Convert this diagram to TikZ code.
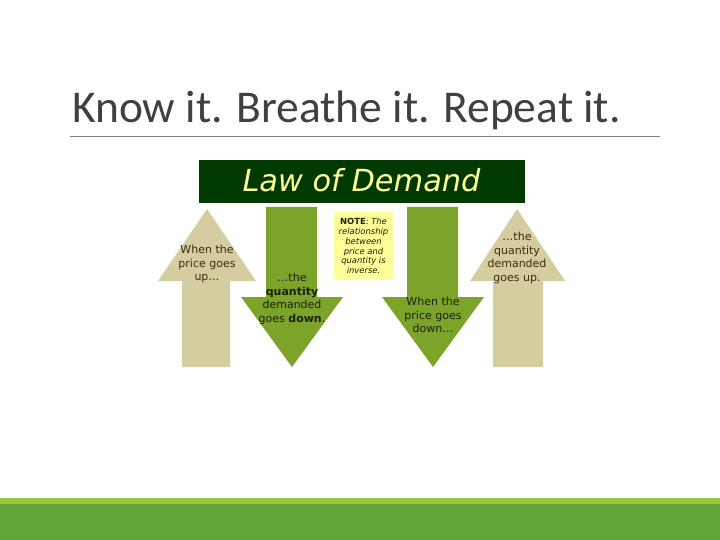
\documentclass[tikz,border=0pt]{standalone}
\usepackage{fontspec}
\setmainfont{DejaVu Sans}
\newfontfamily\titlefont{Carlito}
\newfontfamily\verd{DejaVu Sans}
\definecolor{tan}{HTML}{D4CD9F}
\definecolor{agreen}{HTML}{7CA42A}
\definecolor{hdr}{HTML}{013A01}
\definecolor{hdrtxt}{HTML}{FFFF99}
\definecolor{notebg}{HTML}{FFFF99}
\definecolor{brown}{HTML}{3A2A12}
\definecolor{dtxt}{HTML}{1E1E08}
\definecolor{barlight}{HTML}{9BC53F}
\definecolor{bardark}{HTML}{62A43A}
\begin{document}
\begin{tikzpicture}[x=1pt,y=-1pt,
  arrowtxt/.style={align=center,font=\verd\fontsize{11}{13.5}\selectfont,inner sep=0pt},
  tanarrow/.style={fill=tan,draw=none},
  greenarrow/.style={fill=agreen,draw=none}]
\useasboundingbox (0,0) rectangle (720,540);
\fill[white] (0,0) rectangle (720,540);
% title
\node[anchor=base west,inner sep=0pt,text=black!75,font=\titlefont\fontsize{45.5}{52}\selectfont] (title) at (72,123) {Know it. Breathe it. Repeat it.};
\draw[black!50,line width=0.8pt] (70,136.5) -- (660,136.5);
% bottom bars
\fill[barlight] (0,498) rectangle (720,504);
\fill[bardark] (0,504) rectangle (720,540);
% header
\node[fill=hdr,minimum width=326pt,minimum height=43pt,inner sep=0pt,anchor=north west] (hdr) at (199,160) {};
\node[text=hdrtxt,font=\verd\itshape\fontsize{30.4}{32}\selectfont,inner sep=0pt,anchor=base] (hdrt) at (361.5,192) {Law of Demand};
% arrow 1 (up, tan)
\fill[tanarrow] (207,209) -- (256,281) -- (230,281) -- (230,367) -- (182,367) -- (182,281) -- (158,281) -- cycle;
% arrow 2 (down, green)
\fill[greenarrow] (266,207) -- (317,207) -- (317,297) -- (343,297) -- (292,367) -- (241,297) -- (266,297) -- cycle;
% arrow 3 (down, green)
\fill[greenarrow] (407,207) -- (458,207) -- (458,297) -- (484,297) -- (433,367) -- (382,297) -- (407,297) -- cycle;
% arrow 4 (up, tan)
\fill[tanarrow] (517,209) -- (565,281) -- (543,281) -- (543,367) -- (493,367) -- (493,281) -- (470,281) -- cycle;
% note
\node[fill=notebg,minimum width=59pt,minimum height=67pt,inner sep=0pt,anchor=north west] (note) at (334,212) {};
\node[align=center,inner sep=0pt,text=dtxt,font=\verd\fontsize{8.4}{9.9}\selectfont] (notet) at (363.5,246)
  {\textbf{NOTE}: \textit{The}\\ \textit{relationship}\\ \textit{between}\\ \textit{price and}\\ \textit{quantity is}\\ \textit{inverse.}};
% arrow texts
\node[arrowtxt,text=brown] (t1) at (207,264) {When the\\price goes\\up\dots};
\node[arrowtxt,text=dtxt] (t2) at (292,299) {\dots the\\\textbf{quantity}\\demanded\\goes \textbf{down}.};
\node[arrowtxt,text=dtxt] (t3) at (433,315) {When the\\price goes\\down\dots};
\node[arrowtxt,text=brown] (t4) at (517,258) {\dots the\\quantity\\demanded\\goes up.};
\end{tikzpicture}
\end{document}
